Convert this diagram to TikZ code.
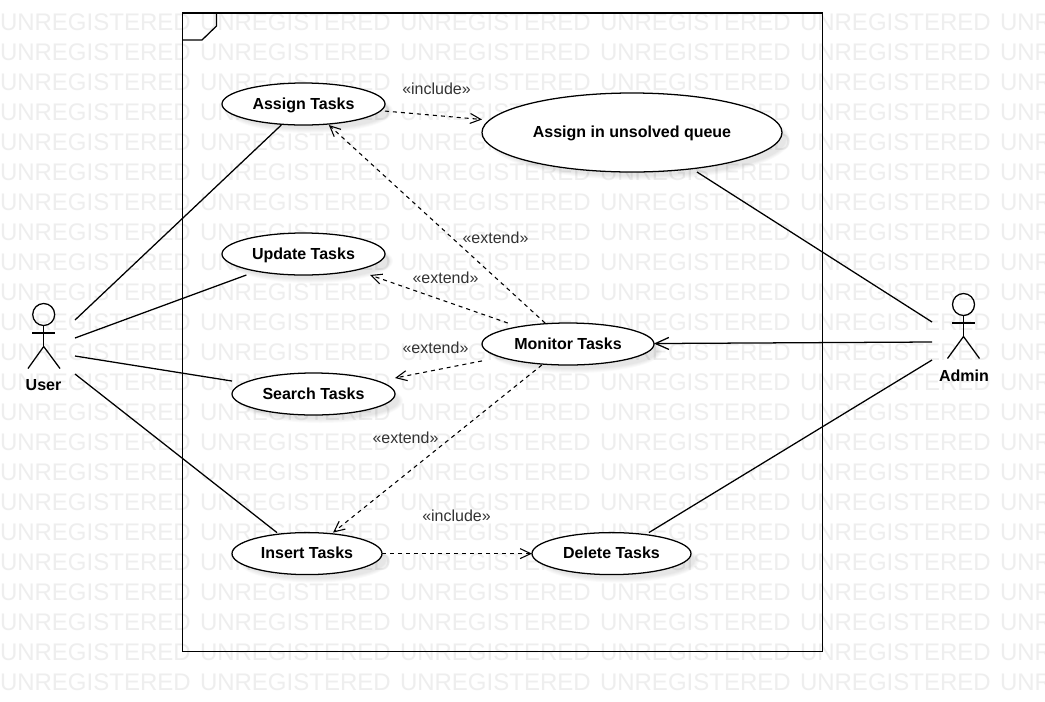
\documentclass[tikz,border=0pt]{standalone}
\usepackage{fontspec}
\setmainfont{Liberation Sans}
\usetikzlibrary{shapes.geometric,arrows.meta}
\definecolor{wmark}{HTML}{EEEEEE}
\definecolor{labelgray}{HTML}{333333}
\tikzset{
  x=0.75pt,y=-0.75pt,
  line/.style={draw=black,line width=0.95pt},
  assoc/.style={line},
  dep/.style={draw=black,line width=0.8pt,dash pattern=on 3pt off 3pt,-{Straight Barb[length=8pt,width=7.5pt,line width=0.8pt]}},
  nav/.style={line,-{Straight Barb[length=10pt,width=9pt,line width=0.95pt]}},
  usecase/.style 2 args={ellipse,line,fill=white,inner sep=0pt,outer sep=0pt,
    minimum width=#1*0.75pt,minimum height=#2*0.75pt,text height=10pt,text depth=2pt,
    font=\fontsize{12}{14}\selectfont\bfseries},
  casebox/.style 2 args={rectangle,inner sep=0pt,outer sep=0pt,
    minimum width=#1*0.75pt,minimum height=#2*0.75pt},
  stereo/.style={font=\fontsize{12}{14}\selectfont,text=labelgray,inner sep=0pt},
  actorname/.style={font=\fontsize{12}{14}\selectfont\bfseries,inner sep=0pt},
  wm/.style={font=\fontsize{18}{20}\selectfont,text=wmark,anchor=base west,inner sep=0pt,outer sep=0pt},
}
% name, width, height, cx, cy, text
\newcommand{\casenode}[6]{%
  \foreach \g in {1,0,-1,-2,-3}{%
    \fill[black,opacity=0.02] (#4+7,#5+7) ellipse ({#2/2+\g} and {#3/2+\g});
  }%
  \node[casebox={#2}{#3}] (#1box) at (#4,#5) {};
  \node[usecase={#2}{#3}] (#1) at (#4,#5) {#6};
}
\begin{document}
\begin{tikzpicture}
\useasboundingbox (0,0) rectangle (1045,701);
\fill[white] (0,0) rectangle (1045,701);
% watermark
\begin{scope}
\clip (0,0) rectangle (1045,701);
\foreach \r in {0,...,22}{
  \foreach \c in {0,...,5}{
    \node[wm] (wm-\r-\c) at ({\c*200},{30+\r*30}) {UNREGISTERED};
  }
}
\end{scope}
% system frame
\draw[line] (182.5,13) rectangle (822.5,651.5);
\draw[line] (182.5,40) -- (202,40) -- (216.5,26) -- (216.5,13);
% use cases
\casenode{assign}{163}{42}{303.5}{104}{Assign Tasks}
\casenode{queue}{300}{79}{632}{132.5}{Assign in unsolved queue}
\casenode{update}{163}{42}{303.5}{254}{Update Tasks}
\casenode{monitor}{172}{42}{568}{344}{Monitor Tasks}
\casenode{search}{163}{42}{313.5}{394}{Search Tasks}
\casenode{insert}{150}{42}{307}{553.6}{Insert Tasks}
\casenode{delete}{159}{42}{611.5}{553.6}{Delete Tasks}
% actors
\node[circle,line,inner sep=0pt,outer sep=0pt,minimum size=16.5pt] (userhead) at (43.7,314.5) {};
\draw[line] (userhead.south) -- (43.7,346.5) coordinate (userhip);
\coordinate (userarmL) at (32,333); \coordinate (userarmR) at (55,333);
\coordinate (userlegL) at (28,368.5); \coordinate (userlegR) at (60,368.5);
\draw[line] (userarmL) -- (userarmR);
\draw[line] (userlegL) -- (userhip) -- (userlegR);
\node[actorname] (username) at (43.5,385.5) {User};
\node[circle,line,inner sep=0pt,outer sep=0pt,minimum size=16.5pt] (adminhead) at (963.5,304.5) {};
\draw[line] (adminhead.south) -- (963.5,336.5) coordinate (adminhip);
\coordinate (adminarmL) at (952,323); \coordinate (adminarmR) at (975,323);
\coordinate (adminlegL) at (947.5,358.5); \coordinate (adminlegR) at (979.5,358.5);
\draw[line] (adminarmL) -- (adminarmR);
\draw[line] (adminlegL) -- (adminhip) -- (adminlegR);
\node[actorname] (adminname) at (964,375.5) {Admin};
% connector free ends
\coordinate (u1) at (75,320);
\coordinate (u2) at (75,338);
\coordinate (u3) at (75,356);
\coordinate (u4) at (75,374);
\coordinate (a1) at (932,322);
\coordinate (a2) at (932,342);
\coordinate (a3) at (932,360);
% associations
\draw[assoc] (u1) -- (assignbox);
\draw[assoc] (u2) -- (updatebox);
\draw[assoc] (u3) -- (searchbox);
\draw[assoc] (u4) -- ([xshift=-22.5pt]insertbox.north);
\draw[assoc] (a1) -- ([xshift=48.75pt]queuebox.south);
\draw[nav] (a2) -- (monitorbox);
\draw[assoc] (a3) -- ([xshift=28pt]deletebox.north);
% dependencies
\draw[dep] (assignbox) -- (queuebox);
\draw[dep] (monitorbox) -- ([xshift=19pt]assignbox.south);
\draw[dep] (monitorbox) -- ([xshift=49.9pt]updatebox.south);
\draw[dep] (monitorbox) -- (searchbox);
\draw[dep] (monitorbox) -- ([xshift=19.5pt]insertbox.north);
\draw[dep] (insertbox) -- (deletebox);
% stereotypes
\node[stereo] (l1) at (436.5,89) {«include»};
\node[stereo] (l2) at (495.5,238) {«extend»};
\node[stereo] (l3) at (445.5,278) {«extend»};
\node[stereo] (l4) at (435.5,348) {«extend»};
\node[stereo] (l5) at (405.5,438) {«extend»};
\node[stereo] (l6) at (456.5,516) {«include»};
\end{tikzpicture}
\end{document}
